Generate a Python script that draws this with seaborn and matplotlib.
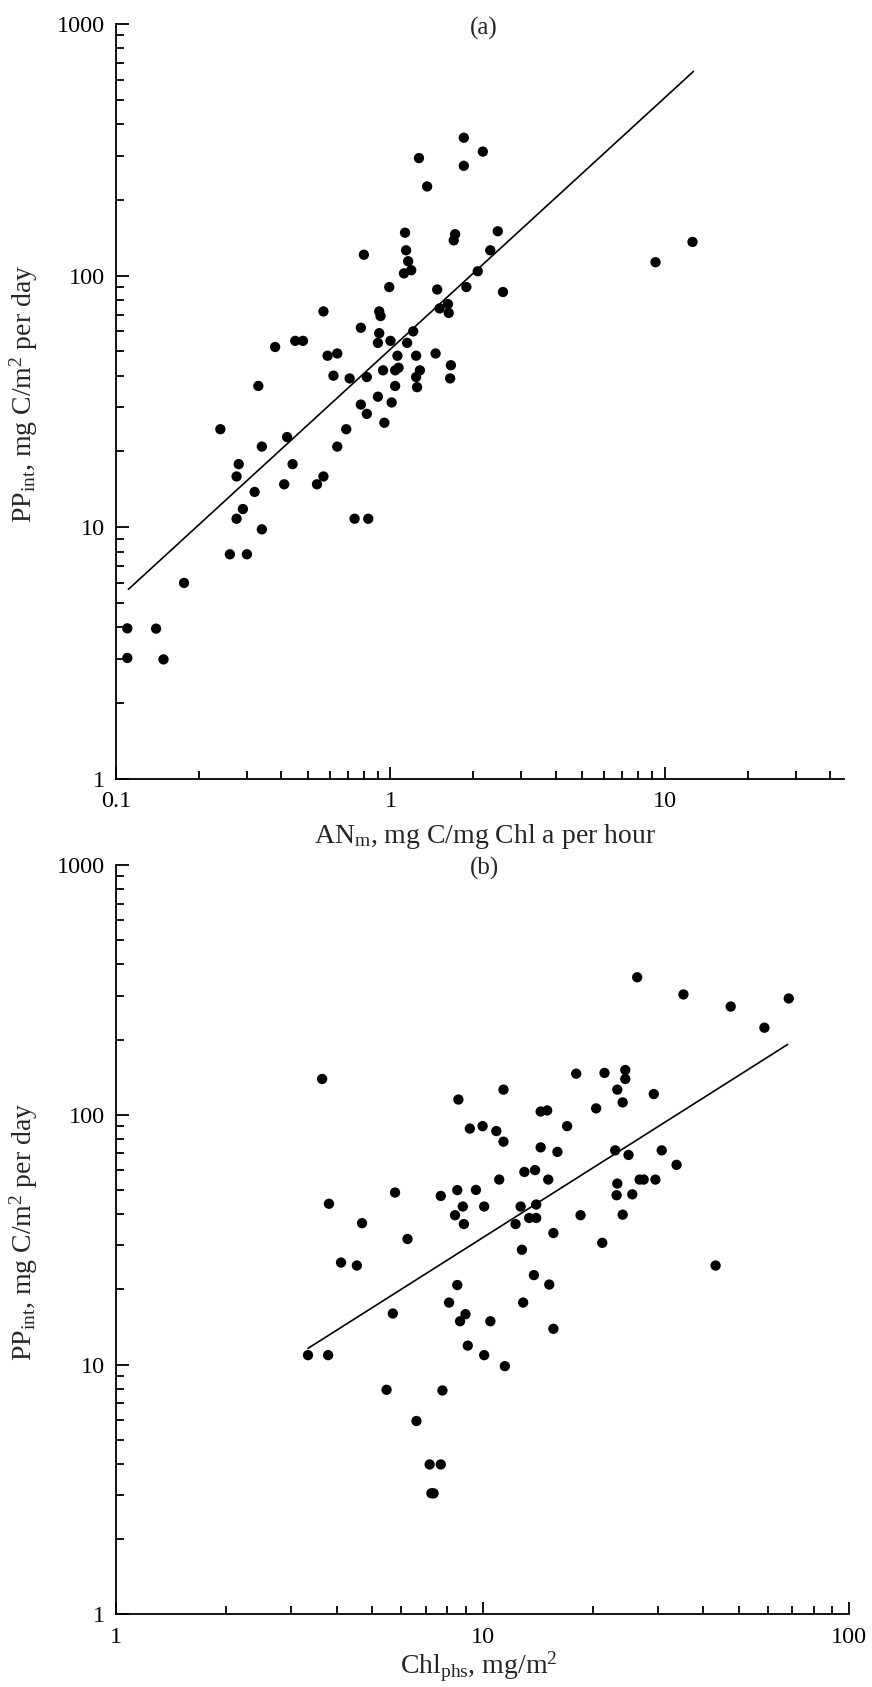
import numpy as np
import pandas as pd
import matplotlib
matplotlib.use("Agg")
import matplotlib.pyplot as plt
from matplotlib.ticker import FixedLocator, LogLocator, NullFormatter
import seaborn as sns

# ================= DATA =================
# (a) assimilation number vs integrated primary production
an_m = [1.85, 2.17, 1.27, 1.85, 1.36, 1.13, 1.72, 2.46, 1.70, 12.6,
        1.14, 2.31, 0.80, 1.16, 1.19, 1.12, 9.24, 2.08, 0.99, 1.48,
        1.89, 2.57, 1.62, 1.51, 1.63, 0.57, 0.91, 0.92, 0.78, 0.91,
        1.21, 0.45, 0.48, 0.38, 1.00, 0.90, 1.15, 0.59, 0.64, 1.06,
        1.24, 1.46, 1.66, 0.94, 1.04, 1.07, 1.28, 0.62, 0.71, 0.82,
        1.24, 1.65, 0.33, 1.04, 1.25, 0.90, 0.78, 1.01, 0.82, 0.95,
        0.24, 0.69, 0.42, 0.34, 0.64, 0.28, 0.44, 0.275, 0.57, 0.41,
        0.54, 0.32, 0.29, 0.275, 0.74, 0.83, 0.34, 0.26, 0.30, 0.177,
        0.11, 0.14, 0.11, 0.149]
pp_a = [353, 311, 293, 273, 226, 148, 146, 150, 138, 136,
        126, 126, 121, 114, 105, 102, 113, 104, 90, 88,
        90, 86, 77, 74, 71, 72, 72, 69, 62, 59,
        60, 55, 55, 52, 55, 54, 54, 48, 49, 48,
        48, 49, 44, 42, 42, 43, 42, 40, 39, 39.5,
        39.5, 39, 36.4, 36.4, 36, 33, 30.7, 31.3, 28.2, 26,
        24.5, 24.5, 22.8, 20.9, 20.9, 17.8, 17.8, 15.9, 15.9, 14.8,
        14.8, 13.8, 11.8, 10.8, 10.8, 10.8, 9.8, 7.8, 7.8, 6.0,
        3.96, 3.95, 3.02, 2.98]

# (b) chlorophyll in the photosynthetic layer vs integrated primary production
chl = [26.4, 35.3, 47.5, 68.4, 58.7, 3.65, 18.0, 21.5, 24.5, 24.5,
       11.4, 23.3, 29.3, 8.59, 24.1, 14.4, 15.0, 20.4, 9.23, 10.0,
       10.9, 17.0, 11.4, 14.4, 16.0, 23.0, 30.8, 25.0, 33.8, 13.0,
       13.9, 11.1, 15.1, 26.8, 27.5, 29.6, 23.3, 5.77, 8.53, 9.59,
       7.69, 23.2, 25.6, 3.81, 8.83, 10.1, 12.7, 14.0, 8.41, 13.4,
       14.0, 18.5, 24.1, 4.69, 8.89, 12.3, 6.24, 15.6, 21.2, 12.8,
       4.11, 4.54, 43.2, 13.8, 8.53, 15.2, 8.10, 12.9, 5.69, 8.98,
       8.68, 10.5, 15.6, 9.11, 3.34, 3.79, 10.1, 11.5, 5.47, 7.77,
       6.60, 7.17, 7.69, 7.25, 7.35]
pp_b = [355, 303, 271, 292, 223, 139, 146, 147, 151, 139,
        126, 126, 121, 115, 112, 103, 104, 106, 88, 90,
        86, 90, 78, 74, 71, 72, 72, 69, 63, 59,
        60, 55, 55, 55, 55, 55, 53, 48.8, 49.9, 50,
        47.3, 47.6, 48, 44, 42.9, 42.9, 42.9, 43.7, 39.6, 38.6,
        38.6, 39.6, 39.8, 36.8, 36.5, 36.5, 31.8, 33.6, 30.7, 28.8,
        25.6, 24.9, 24.9, 22.8, 20.8, 20.9, 17.7, 17.7, 16.0, 15.9,
        14.9, 14.9, 13.9, 11.9, 10.9, 10.9, 10.9, 9.85, 7.92, 7.87,
        5.94, 3.98, 3.98, 3.05, 3.05]

# power-law fits  y = k * x^p  and the x-range they are drawn over
fit_a_k, fit_a_p, fit_a_x = 51.0, 1.0, [0.111, 12.7]
fit_b_k, fit_b_p, fit_b_x = 3.78, 0.93, [3.34, 67.9]

y_ticks = [1, 10, 100, 1000]
x_ticks_a = [0.1, 1, 10]
x_ticks_b = [1, 10, 100]

# ================= PLOTTING =================
sns.set_style("ticks")
plt.rcParams['font.family'] = ['Liberation Serif', 'DejaVu Serif']
plt.rcParams['mathtext.fontset'] = 'custom'
plt.rcParams['mathtext.rm'] = 'Liberation Serif'
plt.rcParams['mathtext.it'] = 'Liberation Serif:italic'

fig = plt.figure(figsize=(8.72, 16.87), dpi=100)
ax_a = fig.add_axes([0.1330, 0.5384, 0.8352, 0.4474])
ax_b = fig.add_axes([0.1330, 0.0431, 0.8409, 0.4442])

df_a = pd.DataFrame({'x': an_m, 'y': pp_a})
df_b = pd.DataFrame({'x': chl, 'y': pp_b})

YLABEL = r'PP$_\mathrm{int}$, mg C/m$^2$ per day'


def style_axes(ax, xlim, xticks, xlabels):
    ax.set_xscale('log')
    ax.set_yscale('log')
    ax.set_xlim(*xlim)
    ax.set_ylim(1, 1000)
    ax.xaxis.set_major_locator(FixedLocator(xticks))
    ax.set_xticklabels(xlabels)
    ax.yaxis.set_major_locator(FixedLocator(y_ticks))
    ax.set_yticklabels([str(t) for t in y_ticks])
    for axis in (ax.xaxis, ax.yaxis):
        axis.set_minor_locator(LogLocator(base=10, subs=np.arange(2, 10)))
        axis.set_minor_formatter(NullFormatter())
    sns.despine(ax=ax)
    for side in ('left', 'bottom'):
        ax.spines[side].set_linewidth(1.3)
        ax.spines[side].set_color('black')
    ax.tick_params(which='both', direction='in', width=1.3, colors='black',
                   labelsize=17.5)
    ax.tick_params(which='major', length=9)
    ax.tick_params(which='minor', length=6)
    ax.tick_params(axis='x', pad=9)
    ax.tick_params(axis='y', pad=8)
    ax.set_ylabel(YLABEL, fontsize=20)
    ax.yaxis.set_label_coords(-0.104, 0.51)


# Panel (a)
sns.scatterplot(data=df_a, x='x', y='y', color='black', s=55,
                edgecolor='none', ax=ax_a)
fx = np.array(fit_a_x)
sns.lineplot(x=fx, y=fit_a_k * fx ** fit_a_p, color='black', lw=1.2, ax=ax_a)
style_axes(ax_a, (0.1, 45), x_ticks_a, ['0.1', '1', '10'])
ax_a.set_xlabel(r'AN$_\mathrm{m}$, mg C/mg Chl a per hour', fontsize=20)
ax_a.xaxis.set_label_coords(0.507, -0.058)
ax_a.xaxis.label.set_va('top')
ax_a.text(0.505, 0.9947, '(a)', transform=ax_a.transAxes, ha='center',
          va='center', fontsize=18)

# Panel (b)
sns.scatterplot(data=df_b, x='x', y='y', color='black', s=55,
                edgecolor='none', ax=ax_b)
fx = np.array(fit_b_x)
sns.lineplot(x=fx, y=fit_b_k * fx ** fit_b_p, color='black', lw=1.2, ax=ax_b)
style_axes(ax_b, (1, 100), x_ticks_b, ['1', '10', '100'])
ax_b.set_xlabel(r'Chl$_\mathrm{phs}$, mg/m$^2$', fontsize=20)
ax_b.xaxis.set_label_coords(0.495, -0.047)
ax_b.xaxis.label.set_va('top')
ax_b.text(0.503, 0.9956, '(b)', transform=ax_b.transAxes, ha='center',
          va='center', fontsize=18)

fig.savefig('out.png', dpi=100)
plt.close(fig)
